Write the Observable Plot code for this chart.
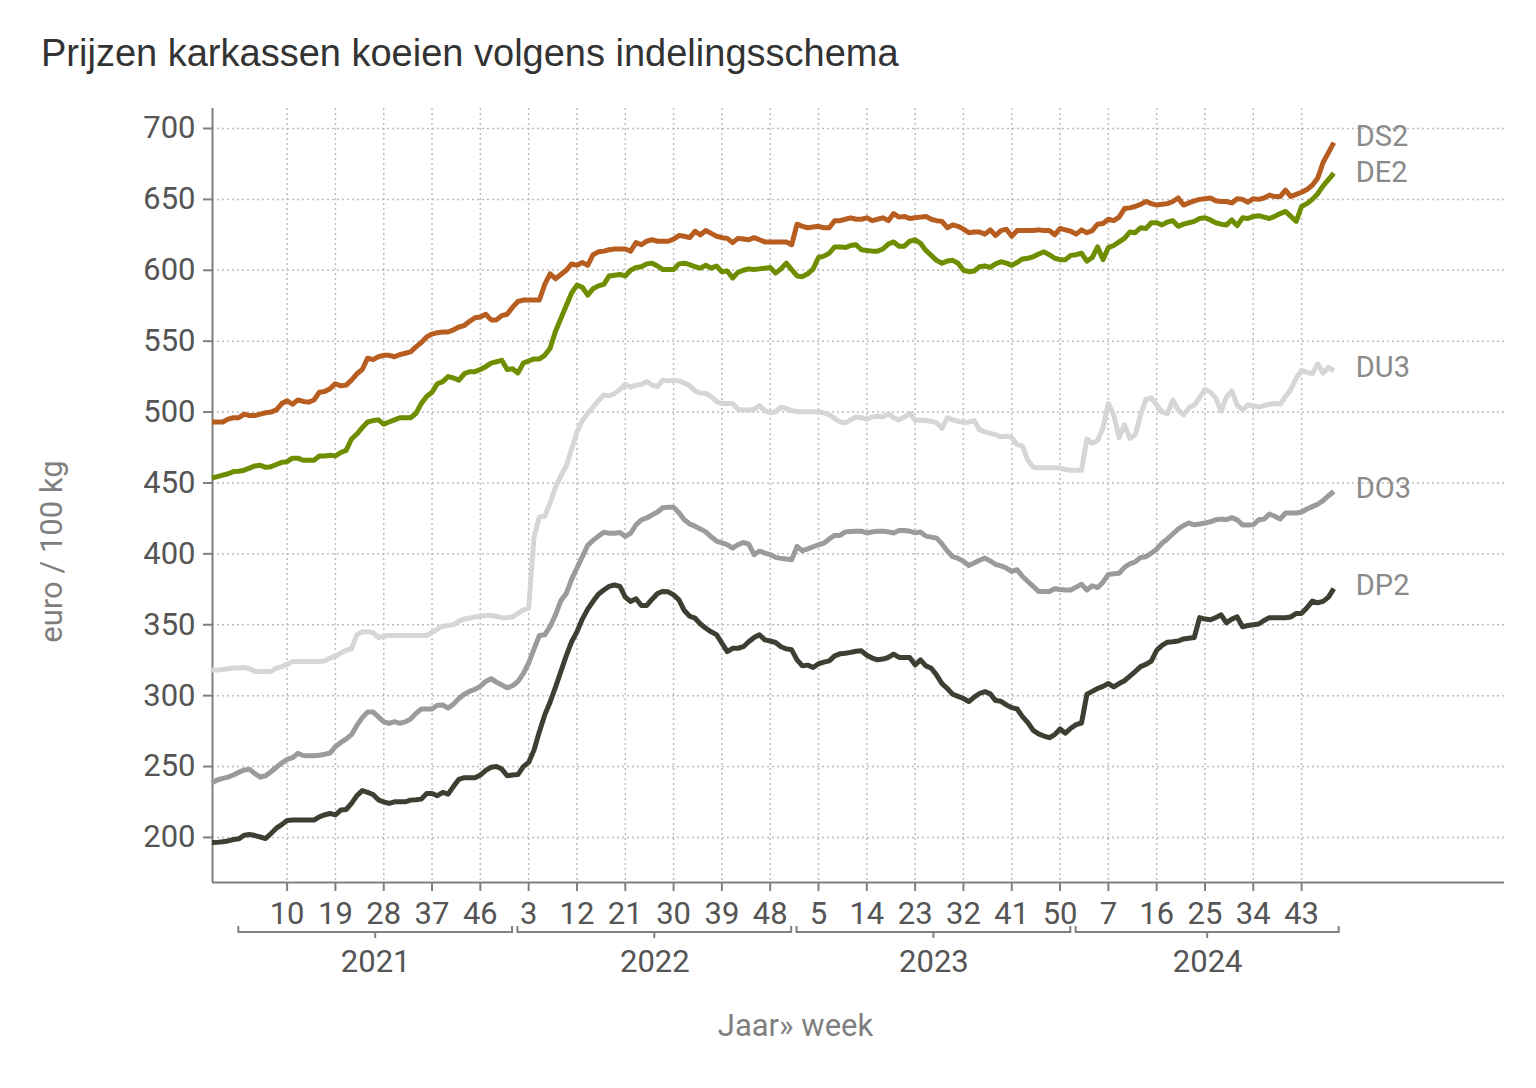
<!DOCTYPE html>
<html>
<head>
<meta charset="utf-8">
<script src="https://cdn.jsdelivr.net/npm/d3@7"></script>
<script src="https://cdn.jsdelivr.net/npm/@observablehq/plot@0.6"></script>
<style>
html, body { margin: 0; padding: 0; background: #ffffff; }
#wrap { position: relative; width: 1536px; height: 1088px; }
#chart { position: absolute; left: 0; top: 0; }
#title { position: absolute; left: 41px; top: 34px; font-family: "Liberation Sans", Arial, sans-serif; font-size: 38px; line-height: 38px; color: #333333; white-space: nowrap; }
</style>
</head>
<body>
<div id="wrap">
  <div id="chart"></div>
  <div id="title">Prijzen karkassen koeien volgens indelingsschema</div>
</div>
<script>
// first data point = 2020 week 49; index 0 = 2021 week 1
const firstWeekIndex = -5;

// weekly prices, euro / 100 kg
const DS2 = [
  493, 493, 493, 495, 496, 496, 498.5, 497.5, 497.5, 498.5,
  499.5, 500, 501.5, 506, 508, 505.5, 508.5, 507.5, 507, 508.5,
  514, 514.5, 516.5, 520, 518.5, 519, 522.5, 527, 530, 538,
  537, 539, 540, 540, 539, 540.5, 541.5, 542.5, 546, 549,
  553, 555, 556, 556.5, 556.5, 558, 560, 561, 564, 566.5,
  567, 569, 565, 565, 568, 569, 574, 578, 579, 579,
  579, 579, 590, 597.5, 594, 597, 600, 604.5, 603.5, 605.5,
  603.5, 611, 613, 613.5, 614.5, 615, 615, 615, 613.5, 619.5,
  618, 620.5, 621.5, 620.5, 620.5, 620.5, 622, 624.5, 624, 623,
  627.5, 625, 628, 626, 624, 623, 622.5, 619.5, 622.5, 622,
  621.5, 623, 621.5, 620, 620, 620, 620, 620, 618, 632.5,
  631, 630, 630.5, 631, 630, 630, 635, 635, 636, 637,
  636, 636, 637, 635, 636, 637, 635, 640, 637.5, 638,
  636.5, 637, 637.5, 638, 636, 635, 634.5, 630, 632, 631,
  629, 626.5, 627, 627, 625.5, 628.5, 624.5, 628, 629, 624,
  628, 628, 628, 628, 628.5, 628, 628, 625, 629.5, 628.5,
  627.5, 625.5, 628.5, 626.5, 628, 632.5, 633, 636, 635, 637.5,
  643.5, 644, 645, 646.5, 648.5, 647, 646, 646.5, 647, 648.5,
  651, 646, 647.5, 649, 650, 650.5, 651, 649, 648.5, 648.5,
  647.5, 650.5, 650, 648, 650.5, 650, 651, 653, 652, 652,
  656.5, 652, 653.5, 655, 657, 660, 665, 676, 683, 690
];
const DE2 = [
  453.5, 454.5, 455.5, 456.5, 458, 458.3, 459, 460.5, 462, 462.5,
  461, 461.5, 463, 464.5, 465, 467.5, 467.5, 466, 466, 466,
  469, 469, 469.5, 469, 471.5, 473, 481, 484.5, 489, 493,
  494, 494.5, 491.5, 493, 494.5, 496, 496, 496, 499, 506,
  511, 514, 520, 521.5, 525, 524, 522.5, 527, 528.5, 528.5,
  530, 532, 534.5, 535.5, 536.5, 530, 530.5, 527.5, 534.5, 536,
  537.5, 537.5, 540, 545, 557, 566, 575, 584, 589.5, 588,
  582.5, 587, 589, 590, 596, 596.5, 597, 596, 600, 602,
  602.5, 604.5, 605, 603, 600.5, 600.5, 600.5, 604.5, 605, 604,
  602.5, 601.5, 603.5, 601.5, 603, 599, 599.5, 594.5, 598.5, 600,
  601, 600.5, 601, 601.5, 602, 598, 601, 605, 600.5, 596,
  595.5, 597.5, 601, 609, 610, 612, 616.5, 616.5, 616, 617.5,
  618, 614.5, 614, 613.5, 613.5, 615, 618.5, 620, 617, 617,
  620.5, 621.5, 619, 614, 610.5, 607, 605, 606.5, 607, 605,
  600, 599, 599.5, 602.5, 603, 602, 604.5, 606, 605, 603.5,
  605.5, 608, 608.5, 609.5, 611.5, 613, 611, 608.5, 607.5, 607.5,
  610.5, 611, 612, 606.5, 609, 616.5, 607.5, 616, 617.5, 620,
  622.5, 627, 626.5, 630, 629.5, 633.5, 633.5, 632, 634, 635,
  631, 632.5, 633.5, 634.5, 636.5, 637, 635.5, 633.5, 632.5, 632,
  635.5, 631.5, 637, 636.5, 638, 638.5, 637.5, 636.5, 638, 640,
  641.5, 638, 634.5, 645, 647, 650, 654, 659.5, 664, 668.5
];
const DU3 = [
  318, 318, 318.5, 319, 319.5, 319.5, 319.8, 319, 317, 317,
  317, 317, 319.5, 320.5, 322, 324, 324, 324, 324, 324,
  324, 324.5, 326.5, 328, 330, 332, 333, 343, 345, 345,
  344.5, 341, 342, 342.4, 342.4, 342.4, 342.4, 342.4, 342.4, 342.4,
  342.4, 344.5, 347, 349, 349.5, 350, 352.5, 354, 354.6, 355.5,
  356, 356.5, 356.5, 356, 355, 355, 355.5, 358, 360.5, 361.5,
  412, 426, 426.5, 436, 447, 455, 462, 474, 486, 494,
  499, 503.5, 508, 512, 511.5, 513, 516, 519.5, 517.5, 519,
  519.5, 521.5, 519, 518, 522.5, 522, 522.5, 522, 520.5, 518.5,
  515, 513.2, 513.2, 511, 507.5, 506, 506, 506, 502, 501.4,
  501.4, 502, 504.5, 501, 499.5, 500.2, 503.5, 502.5, 501, 500.2,
  500.2, 500.2, 500.2, 500, 499.5, 498, 495.5, 493, 492.5, 494.5,
  496.5, 496, 495, 496.5, 497, 496.5, 499, 496, 494.5, 496.5,
  499, 494.3, 494.3, 494, 493.5, 492.5, 488.5, 496, 494.5, 493.5,
  492.5, 493, 494, 487.5, 486, 485, 484, 482.5, 483, 482,
  477, 476, 466, 461, 460.7, 460.7, 460.7, 460.7, 460.5, 459.5,
  459, 459, 459, 481, 478, 480, 489, 506, 498, 482,
  491, 481.5, 484, 498, 509, 510, 505, 500, 499, 508.5,
  501.5, 498, 503, 505, 510, 516, 514, 510, 500.7, 510.5,
  514.8, 505, 501.5, 505, 504.5, 503.5, 504.5, 505.5, 506, 505.5,
  511, 516, 524, 529.5, 528, 527, 534, 527.5, 531.5, 529
];
const DO3 = [
  238.5, 240.5, 241.6, 242.5, 244, 246, 247.5, 248, 245, 242.5,
  243.5, 246.3, 249.5, 252.5, 255, 256.2, 259.3, 257.8, 257.6, 257.6,
  258, 258.6, 259.5, 264, 267, 269.4, 272.5, 279, 284.5, 288.5,
  288.5, 285, 281.5, 280.5, 281.6, 280.5, 281.5, 283.5, 287.5, 290.6,
  290.6, 290.6, 293.2, 293.4, 291.2, 294, 298, 301, 303, 304.5,
  306.5, 310, 312, 309.5, 307.5, 305.5, 307, 310, 315.5, 323,
  333, 342.4, 342.9, 348.8, 357, 367, 372, 382, 390, 398,
  406, 409.5, 412.5, 415.2, 414.5, 414.5, 415, 412.3, 414.5, 420.5,
  424, 425.3, 427.5, 429.5, 432.5, 432.8, 432.8, 429, 424, 421,
  419.5, 417.5, 415.5, 412, 409, 407.8, 406.5, 404, 406.5, 408,
  406.9, 399.4, 402, 400.5, 399.5, 397.5, 396.8, 396.3, 395.8, 405.3,
  402.2, 403.5, 405, 406.4, 407.5, 410.5, 413, 413, 415.5, 415.8,
  416, 416, 414.7, 415.5, 415.9, 415.9, 415.5, 414.7, 416.5, 416.5,
  416, 414.8, 415.4, 412.5, 411.8, 411.1, 407, 402, 398, 396.8,
  394.7, 391.8, 393.5, 395.5, 397, 395, 392.5, 391.5, 390, 387.6,
  388.8, 384, 380.5, 377, 373.5, 373.5, 373.5, 375.4, 374.8, 374.5,
  374.5, 376.5, 378.5, 374.5, 377.5, 376.2, 380, 385.5, 386, 386.3,
  390.5, 393, 394.3, 397.4, 398, 400.5, 403.3, 407.5, 410.5, 414,
  417.5, 420, 421.7, 420.5, 421, 421.7, 422.6, 424, 424.5, 424.1,
  425.5, 424, 420.3, 420.3, 420.5, 424, 424.5, 428, 426.5, 424.5,
  428.8, 428.8, 428.8, 429.5, 431.6, 433.3, 435, 437.5, 441, 444
];
const DP2 = [
  196.4, 196.5, 196.9, 197.5, 198.5, 199, 201.5, 202, 201.3, 200.3,
  199.2, 202.8, 206.5, 209, 212, 212.2, 212.2, 212.2, 212.2, 212.2,
  214.5, 216, 216.9, 215.9, 219.3, 219.7, 224, 229.5, 233, 231.8,
  230.3, 226.5, 225, 224, 225.1, 225.1, 225.1, 226.3, 226.6, 227,
  231, 231, 229.4, 231.7, 230.5, 236, 241, 242.1, 242.1, 242.1,
  244, 247.3, 249.5, 250, 248.2, 243.5, 244, 244.3, 249.9, 252.9,
  261.6, 274.6, 286.4, 295.5, 306, 317, 328, 338, 345, 354,
  361, 366.5, 371.5, 374.5, 377, 378, 377, 369.5, 366.4, 368.3,
  363.6, 363.6, 368, 372, 373.5, 373.2, 371, 367.6, 360, 356,
  354.6, 350.5, 347.5, 345, 343, 337, 331.1, 333.4, 333.4, 334.5,
  338, 341, 342.9, 339.3, 338.5, 337.5, 334.5, 333, 332.3, 325.2,
  321, 321.5, 319.8, 322.5, 323.6, 324.5, 328, 329.5, 329.9, 330.5,
  331.3, 331.6, 328.5, 326.5, 325.3, 325.8, 326.9, 329.2, 326.9, 326.9,
  326.9, 321.7, 325.2, 321, 319.3, 314.5, 308.5, 305, 301, 299.5,
  298, 295.8, 299, 301.5, 302.8, 301.2, 296.5, 296, 293.5, 291.5,
  290.6, 285.2, 281, 275.5, 273, 271.5, 270.3, 272.5, 276.5, 273.5,
  277, 279.5, 280.7, 301, 303, 305, 306.5, 308.5, 306.1, 308.5,
  310.5, 313.7, 317, 320.5, 322, 324.3, 332, 335.5, 337.7, 338,
  338.5, 340, 340.5, 341, 355, 354, 353.5, 355, 357, 351.4,
  354, 355.5, 348.6, 349.5, 350, 350.5, 353, 355, 355, 355,
  355, 355.5, 358, 358, 362, 366.7, 365.5, 366.5, 369.5, 375.5
];

const seriesNames = ["DU3", "DO3", "DP2", "DE2", "DS2"];
const seriesValues = [DU3, DO3, DP2, DE2, DS2];
const seriesColors = ["#d6d6d6", "#9b9b9b", "#3d3f33", "#6e8e00", "#b75d20"];
const labelShift = [-3, -3, -3, 0, -6];

// axis labels
const yTicks = [200, 250, 300, 350, 400, 450, 500, 550, 600, 650, 700];
const years = ["2021", "2022", "2023", "2024"];
const yearFirstIndex = [0, 52, 104, 156];
const yearLastIndex = [51, 103, 155, 205];
const tickYears = [2021,2021,2021,2021,2021, 2022,2022,2022,2022,2022,2022, 2023,2023,2023,2023,2023,2023, 2024,2024,2024,2024,2024];
const tickWeeks = [10,19,28,37,46, 3,12,21,30,39,48, 5,14,23,32,41,50, 7,16,25,34,43];
const xDomain = [-4.9, 235.8];
const yDomain = [168.2, 714.1];
const yLabel = "euro / 100 kg";
const xLabel = "Jaar\u00bb week";

const tickIndex = tickWeeks.map((w, i) => yearFirstIndex[years.indexOf(String(tickYears[i]))] + w - 1);
const tickLabel = new Map(tickIndex.map((t, i) => [t, String(tickWeeks[i])]));

const rows = seriesNames.map((name, s) => seriesValues[s].map((v, i) => ({series: name, x: firstWeekIndex + i, v})));
const lastRows = rows.map((r, s) => ({...r[r.length - 1], shift: labelShift[s]}));
const yearRows = years.map((y, i) => ({year: y, first: yearFirstIndex[i], last: yearLastIndex[i], mid: (yearFirstIndex[i] + yearLastIndex[i]) / 2}));

const grid = {stroke: "#bdbdbd", strokeOpacity: 1, strokeWidth: 1.5, strokeDasharray: "2,3"};
const axisGray = "#808080";

const brackets = (index, scales, values, dims) => {
  const g = d3.create("svg:g")
    .attr("fill", "none").attr("stroke", axisGray).attr("stroke-width", 2);
  const yb = dims.height - dims.marginBottom + 50;
  yearRows.forEach(r => {
    const x0 = scales.x(r.first), x1 = scales.x(r.last), xm = scales.x(r.mid);
    g.append("path").attr("d", `M${x0},${yb - 6}V${yb}H${x1}V${yb - 6}M${xm},${yb}V${yb + 6}`);
  });
  return g.node();
};

const chart = Plot.plot({
  width: 1536,
  height: 1088,
  marginTop: 108,
  marginBottom: 206,
  marginLeft: 212,
  marginRight: 32,
  style: {background: "#ffffff", fontFamily: "Roboto, sans-serif", fontSize: "31px", color: "#555555", overflow: "visible"},
  x: {type: "linear", domain: xDomain},
  y: {type: "linear", domain: yDomain},
  marks: [
    Plot.gridY(yTicks, grid),
    Plot.gridX(tickIndex, grid),
    Plot.axisY(yTicks, {tickSize: 9, tickPadding: 8, stroke: axisGray, strokeWidth: 2, fontSize: 31, label: null}),
    Plot.axisX(tickIndex, {tickSize: 9, tickPadding: 10, stroke: axisGray, strokeWidth: 2, fontSize: 31, label: null, tickFormat: d => tickLabel.get(d)}),
    Plot.ruleX([xDomain[0]], {stroke: axisGray, strokeWidth: 2}),
    Plot.ruleY([yDomain[0]], {stroke: axisGray, strokeWidth: 2}),
    ...rows.map((r, s) => Plot.line(r, {x: "x", y: "v", stroke: seriesColors[s], strokeWidth: 5, strokeLinejoin: "round", strokeLinecap: "butt"})),
    ...lastRows.map(d => Plot.text([d], {x: "x", y: "v", text: "series", textAnchor: "start", dx: 22, dy: d.shift, fill: "#8a8a8a", fontSize: 29})),
    brackets,
    Plot.text(yearRows, {x: "mid", frameAnchor: "bottom", lineAnchor: "middle", dy: 80, text: "year", fill: "#555555", fontSize: 31}),
    Plot.text([yLabel], {frameAnchor: "left", textAnchor: "middle", lineAnchor: "middle", dx: -160, dy: 56, rotate: -90, text: d => d, fill: "#7f7f7f", fontSize: 31}),
    Plot.text([xLabel], {frameAnchor: "bottom", lineAnchor: "middle", dx: -63, dy: 144, text: d => d, fill: "#7f7f7f", fontSize: 31})
  ]
});
document.getElementById("chart").appendChild(chart);
</script>
</body>
</html>
